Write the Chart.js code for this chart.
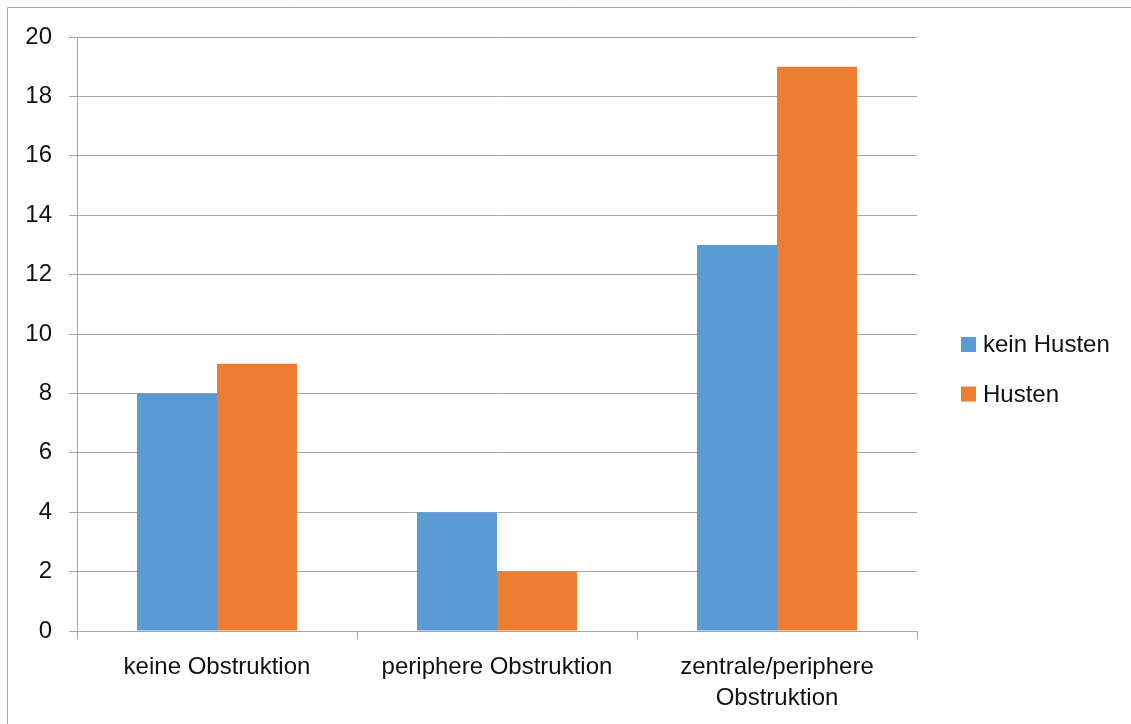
<!DOCTYPE html>
<html>
<head>
<meta charset="utf-8">
<script src="https://cdn.jsdelivr.net/npm/chart.js@4/dist/chart.umd.min.js"></script>
<style>
  html, body { margin: 0; padding: 0; background: #fff; }
  #wrap { width: 1131px; height: 724px; position: relative; }
  canvas { display: block; }
</style>
</head>
<body>
<div id="wrap"><canvas id="c" width="1131" height="724"></canvas></div>
<script>
// Categories and series
const categories = ['keine Obstruktion', 'periphere Obstruktion', ['zentrale/periphere', 'Obstruktion']];
const keinHusten = [8, 4, 13];
const husten = [9, 2, 19];
const seriesNames = ['kein Husten', 'Husten'];
const seriesColors = ['#5b9bd5', '#ed7d31'];

const FONT = '"Liberation Sans", Arial, sans-serif';
const GRID = '#a6a6a6';

// Outer frame of the chart box (left and top edges visible)
const framePlugin = {
  id: 'frame',
  beforeDraw(chart) {
    const ctx = chart.ctx;
    ctx.save();
    ctx.fillStyle = '#fff';
    ctx.fillRect(0, 0, chart.width, chart.height);
    ctx.strokeStyle = GRID;
    ctx.lineWidth = 1;
    ctx.beginPath();
    ctx.moveTo(7.5, chart.height);
    ctx.lineTo(7.5, 7.5);
    ctx.lineTo(chart.width, 7.5);
    ctx.stroke();
    ctx.restore();
  }
};

// Legend drawn to the right of the plot area
const sideLegend = {
  id: 'sideLegend',
  afterDraw(chart) {
    const ctx = chart.ctx;
    const area = chart.chartArea;
    const x0 = area.right + 44;
    const yc = [344.5, 394];
    ctx.save();
    ctx.font = '24px ' + FONT;
    ctx.textBaseline = 'middle';
    ctx.textAlign = 'left';
    chart.data.datasets.forEach((ds, i) => {
      ctx.fillStyle = ds.backgroundColor;
      ctx.fillRect(x0, yc[i] - 7.5, 15, 15);
      ctx.fillStyle = '#111';
      ctx.fillText(ds.label, x0 + 22, yc[i] + 1);
    });
    ctx.restore();
  }
};

new Chart(document.getElementById('c'), {
  type: 'bar',
  data: {
    labels: categories,
    datasets: [
      { label: seriesNames[0], data: keinHusten, backgroundColor: seriesColors[0] },
      { label: seriesNames[1], data: husten, backgroundColor: seriesColors[1] }
    ]
  },
  options: {
    responsive: false,
    animation: false,
    devicePixelRatio: 1,
    categoryPercentage: 160 / 280,
    barPercentage: 1,
    layout: { padding: { left: 0, top: 37, right: 214, bottom: 0 } },
    plugins: {
      legend: { display: false },
      tooltip: { enabled: false }
    },
    scales: {
      x: {
        offset: true,
        grid: {
          offset: true,
          drawOnChartArea: false,
          drawTicks: true,
          tickLength: 8,
          color: GRID
        },
        border: { color: GRID },
        ticks: {
          color: '#111',
          font: { family: FONT, size: 24, lineHeight: 1.3 },
          padding: 13,
          maxRotation: 0,
          autoSkip: false
        },
        afterFit(scale) { scale.height = 724 - 631; }
      },
      y: {
        min: 0,
        max: 20,
        ticks: {
          stepSize: 2,
          color: '#111',
          font: { family: FONT, size: 24 },
          padding: 17
        },
        grid: {
          color: GRID,
          tickLength: 8,
          drawTicks: true
        },
        border: { color: GRID },
        afterFit(scale) { scale.width = 77; }
      }
    }
  },
  plugins: [framePlugin, sideLegend]
});
</script>
</body>
</html>
